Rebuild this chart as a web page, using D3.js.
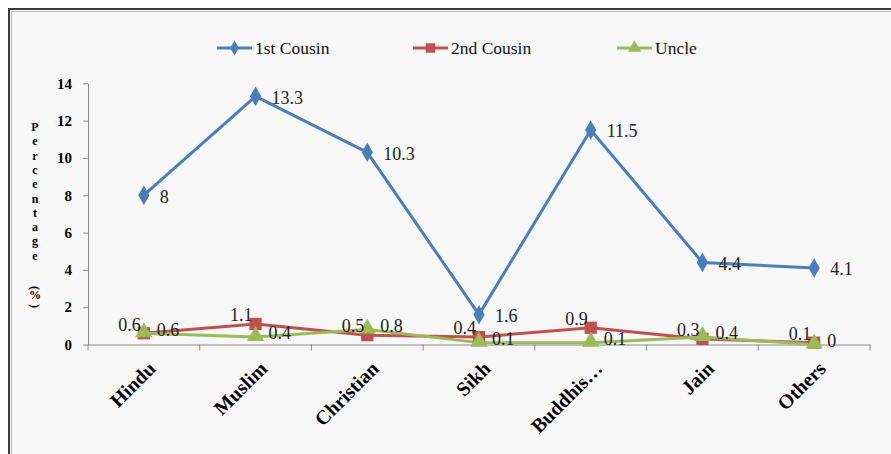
<!DOCTYPE html>
<html><head><meta charset="utf-8">
<script src="https://cdn.jsdelivr.net/npm/d3@7"></script>
<style>body{margin:0;background:#fff}svg{display:block}</style>
</head><body>
<svg id="c" width="891" height="454"></svg>
<script>
const categories = ["Hindu","Muslim","Christian","Sikh","Buddhis\u2026","Jain","Others"];
const firstCousin = [8, 13.3, 10.3, 1.6, 11.5, 4.4, 4.1];
const secondCousin = [0.6, 1.1, 0.5, 0.4, 0.9, 0.3, 0.1];
const uncle = [0.6, 0.4, 0.8, 0.1, 0.1, 0.4, 0];
const yTicks = [0, 2, 4, 6, 8, 10, 12, 14];
const seriesNames = ["1st Cousin", "2nd Cousin", "Uncle"];
const yTitle = "Percentage";

const svg = d3.select("#c");
const serif = "'Liberation Serif','Times New Roman',serif";

// frame
svg.append("rect").attr("x",9).attr("y",9).attr("width",900).attr("height",460)
  .attr("fill","#f7f7f7").attr("stroke","#3a3a3a").attr("stroke-width",2);
svg.append("path").attr("d","M11.5,460V11.5H900").attr("fill","none").attr("stroke","#b8b8b8").attr("stroke-width",1);

const x = d3.scaleBand().domain(categories).range([88, 870]);
const y = d3.scaleLinear().domain([0, 14]).range([344.5, 83.3]);
const cx = c => x(c) + x.bandwidth() / 2;

// y axis
const ya = svg.append("g").attr("transform","translate(88,0)")
  .call(d3.axisLeft(y).tickValues(yTicks).tickSize(5).tickSizeOuter(0).tickPadding(10));
ya.select(".domain").attr("stroke","#8a8a8a");
ya.selectAll(".tick line").attr("stroke","#8a8a8a");
ya.selectAll(".tick text").attr("font-family",serif).attr("font-weight","bold")
  .attr("font-size",15).attr("fill","#000").attr("dx",-1);

// x axis
const xa = svg.append("g").attr("transform","translate(0,344.5)")
  .call(d3.axisBottom(x).tickSize(0).tickFormat(""));
xa.select(".domain").attr("stroke","#8a8a8a");
const bounds = d3.range(categories.length + 1).map(i => 88 + i * x.bandwidth());
xa.selectAll(".bt").data(bounds).enter().append("line")
  .attr("x1",d=>d).attr("x2",d=>d).attr("y1",0).attr("y2",6).attr("stroke","#8a8a8a");

svg.append("g").selectAll("text").data(categories).enter().append("text")
  .attr("transform", d => `translate(${cx(d)+3},${360}) rotate(-45)`)
  .attr("text-anchor","end").attr("dy","0.7em")
  .attr("font-family",serif).attr("font-weight","bold").attr("font-size",20)
  .attr("fill","#000").text(d=>d);

// y title stacked letters
const letters = yTitle.split("");
svg.append("g").selectAll("text").data(letters).enter().append("text")
  .attr("x",35).attr("y",(d,i)=>131 + i*14.3)
  .attr("text-anchor","middle").attr("font-family",serif).attr("font-weight","bold")
  .attr("font-size",12).attr("fill","#000").text(d=>d);
const pg = svg.append("g").attr("font-family",serif).attr("font-weight","bold").attr("font-size",12).attr("fill","#000");
pg.append("text").attr("transform","translate(35,288) rotate(90)").attr("text-anchor","middle").attr("dy","0.35em").text("(");
pg.append("text").attr("x",35).attr("y",299).attr("text-anchor","middle").text("%");
pg.append("text").attr("transform","translate(35,306) rotate(90)").attr("text-anchor","middle").attr("dy","0.35em").text(")");

const colors = ["#4a7ebb", "#c0504d", "#9bbb59"];
const shapes = [d3.symbolDiamond, d3.symbolSquare, d3.symbolTriangle];
const sizes = [110, 150, 130];
const data = [firstCousin, secondCousin, uncle];

const line = d3.line().x((d,i)=>cx(categories[i])).y(d=>y(d));

const order = [0, 1, 2];
order.forEach(s => {
  svg.append("path").datum(data[s]).attr("d", line).attr("fill","none")
    .attr("stroke", colors[s]).attr("stroke-width", 3).attr("stroke-linejoin","round");
});
order.forEach(s => {
  svg.append("g").selectAll("path").data(data[s]).enter().append("path")
    .attr("d", d3.symbol().type(shapes[s]).size(sizes[s]))
    .attr("transform",(d,i)=>`translate(${cx(categories[i])},${y(d) + (s===2?-1:0)})`)
    .attr("fill", colors[s]);
});

// data labels
function labels(vals, dx, dy, anchor) {
  svg.append("g").selectAll("text").data(vals).enter().append("text")
    .attr("x",(d,i)=>cx(categories[i]) + dx)
    .attr("y",(d,i)=>y(d) + dy)
    .attr("dy","0.35em").attr("text-anchor",anchor)
    .attr("font-family",serif).attr("font-size",18)
    .attr("fill","#222").text(d=>d);
}
labels(firstCousin, 16, 1, "start");
labels(secondCousin, -3, -9, "end");
labels(uncle, 13, -4, "start");

// legend
const lg = svg.append("g");
const legX = [217, 413, 617];
seriesNames.forEach((n, s) => {
  const g = lg.append("g").attr("transform",`translate(${legX[s]},48)`);
  g.append("line").attr("x1",0).attr("x2",35).attr("stroke",colors[s]).attr("stroke-width",3);
  g.append("path").attr("d", d3.symbol().type(shapes[s]).size(sizes[s]*0.6))
    .attr("transform","translate(17.5,0)").attr("fill",colors[s]);
  g.append("text").attr("x",38).attr("dy","0.35em").attr("font-family",serif)
    .attr("font-size",17.5).attr("fill","#111").text(n);
});
</script>
</body></html>
